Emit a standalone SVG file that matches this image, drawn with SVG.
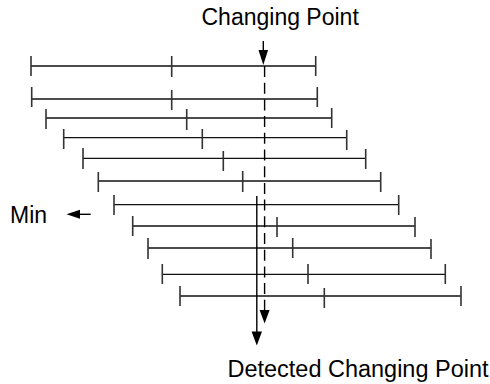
<svg xmlns="http://www.w3.org/2000/svg" width="490" height="384" viewBox="0 0 490 384">
<style>
.bar{stroke:#111;stroke-width:1.3;fill:none}
.tick{stroke:#333;stroke-width:1.6;fill:none}
.arr{stroke:#000;stroke-width:1.4;fill:none}
.dash{stroke:#000;stroke-width:1.4;fill:none;stroke-dasharray:11 5.7}
.head{fill:#000;stroke:none}
text{font-family:"Liberation Sans",Arial,sans-serif;font-size:23px;fill:#000}
</style>
<rect width="490" height="384" fill="#fff"/>
<g id="intervals">
<g id="w1"><path class="bar" d="M31 66H315.7"/><path class="tick" d="M31 56V76M171.7 56V77M315.7 56V76"/></g>
<g id="w2"><path class="bar" d="M31.7 99H317.3"/><path class="tick" d="M31.7 87V107M171.7 90V110M317.3 87V107"/></g>
<g id="w3"><path class="bar" d="M46 118H331.7"/><path class="tick" d="M46 109V129M186.7 109V130M331.7 108V128"/></g>
<g id="w4"><path class="bar" d="M63.7 137.7H346.7"/><path class="tick" d="M63.7 129V149M202.3 129V149M346.7 130V150"/></g>
<g id="w5"><path class="bar" d="M83 158.3H365.7"/><path class="tick" d="M83 148V169M223.3 151V171M365.7 149V169"/></g>
<g id="w6"><path class="bar" d="M98.3 181H380.7"/><path class="tick" d="M98.3 172V192M242.7 171V192M380.7 172V192"/></g>
<g id="w7"><path class="bar" d="M114 204.7H398.7"/><path class="tick" d="M114 195V215M398.7 195V215"/></g>
<g id="w8"><path class="bar" d="M132.7 226H415"/><path class="tick" d="M132.7 216V236M277 217V237M415 217V237"/></g>
<g id="w9"><path class="bar" d="M148 248H431"/><path class="tick" d="M148 238V259M292.7 238V258M431 239V259"/></g>
<g id="w10"><path class="bar" d="M162.3 274.3H445.3"/><path class="tick" d="M162.3 264V284M308 264V284M445.3 264V284"/></g>
<g id="w11"><path class="bar" d="M180 296H461"/><path class="tick" d="M180 286V306M324.3 288V308M461 286V306"/></g>
</g>
<g id="connectors">
<path class="arr" d="M263.3 41V52"/>
<polygon class="head" points="258.5,50 268.1,50 263.3,65"/>
<path class="dash" d="M264.6 66V312"/>
<polygon class="head" points="259.6,310 269.6,310 264.6,323.5"/>
<path class="arr" d="M256.8 196V334"/>
<polygon class="head" points="251.6,331.5 262,331.5 256.8,345.5"/>
<path class="arr" d="M90.7 214.3H78"/>
<polygon class="head" points="80,209.8 80,218.8 66.5,214.3"/>
</g>
<g id="labels">
<text x="201.5" y="25">Changing Point</text>
<text x="227.5" y="376.7" textLength="261" lengthAdjust="spacingAndGlyphs">Detected Changing Point</text>
<text x="10" y="223.3">Min</text>
</g>
</svg>
